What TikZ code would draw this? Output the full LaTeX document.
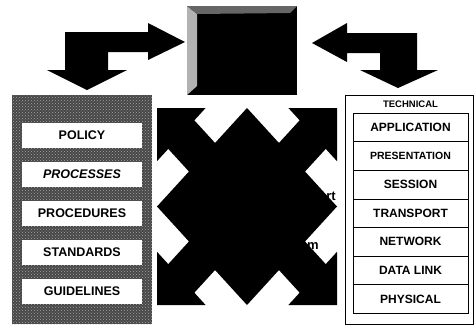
\documentclass[tikz,border=0pt]{standalone}
\usepackage{fontspec}
\setmainfont{Liberation Sans}
\usetikzlibrary{patterns}

\tikzset{
  govbox/.style={fill=white,minimum width=120pt,minimum height=25pt,inner sep=0pt,
                 font=\fontsize{12.5}{14}\selectfont\bfseries},
  layerbox/.style={draw,line width=0.6pt,fill=white,minimum width=115pt,minimum height=28.6pt,
                   inner sep=0pt,font=\fontsize{12}{13}\selectfont\bfseries},
}

\begin{document}
\begin{tikzpicture}[x=1pt,y=-1pt]
  \useasboundingbox (0,0) rectangle (476,327);
  % central box on top, with bevel
  \node[fill=black,minimum width=110pt,minimum height=89pt,inner sep=0pt] (ctrl) at (242,50.5) {};
  \fill[black!30] (187,6) -- (197,14) -- (197,86) -- (187,95) -- cycle;
  \fill[black!60] (187,6) -- (297,6) -- (290,13) -- (197,14) -- cycle;
  % elbow arrows
  \fill (65,32) -- (148,32) -- (148,23) -- (185,42) -- (148,60) -- (148,52) -- (108,52)
        -- (108,70) -- (127,70) -- (87,90) -- (47,70) -- (65,70) -- cycle;
  \fill (312,43) -- (347,23) -- (347,33) -- (417,33) -- (417,70) -- (438,70) -- (398,88)
        -- (360,70) -- (380,70) -- (380,53) -- (347,53) -- (347,62) -- cycle;
  % left stack (stippled)
  \fill[black!72] (12,95) rectangle (152,324);
  \fill[pattern=crosshatch dots,pattern color=black!35] (12,95) rectangle (152,324);
  \foreach \y/\lbl [count=\i] in {135/POLICY,174/{\itshape PROCESSES},213/PROCEDURES,
                                  252/STANDARDS,291/GUIDELINES}
    \node[govbox] (gov\i) at (82,\y) {\lbl};
  % right stack
  \draw[line width=0.6pt] (345,95) rectangle (473,324);
  \node[font=\fontsize{9.5}{11}\selectfont\bfseries] (tech) at (410.5,104) {TECHNICAL};
  \foreach \lbl [count=\i] in {APPLICATION,{\fontsize{10.5}{12}\selectfont PRESENTATION},SESSION,
                               TRANSPORT,NETWORK,DATA LINK,PHYSICAL}
    \node[layerbox] (osi\i) at (410.5,{127.3+28.6*(\i-1)}) {\lbl};
  % crossed arrows over diamond
  \begin{scope}[shift={(247,206.5)},xscale=90,yscale=-98.5]
    \fill (-1,1) -- (-0.46,1) -- (-0.585,0.875) -- (-0.355,0.645) -- (0,1) -- (0.355,0.645)
      -- (0.585,0.875) -- (0.46,1) -- (1,1) -- (1,0.46) -- (0.875,0.585) -- (0.645,0.355)
      -- (1,0) -- (0.645,-0.355) -- (0.875,-0.585) -- (1,-0.46) -- (1,-1) -- (0.46,-1)
      -- (0.585,-0.875) -- (0.355,-0.645) -- (0,-1) -- (-0.355,-0.645) -- (-0.585,-0.875)
      -- (-0.46,-1) -- (-1,-1) -- (-1,-0.46) -- (-0.875,-0.585) -- (-0.645,-0.355) -- (-1,0)
      -- (-0.645,0.355) -- (-0.875,0.585) -- (-1,0.46) -- cycle;
  \end{scope}
  \node[font=\fontsize{13}{14}\selectfont\bfseries,inner sep=0pt] (sup) at (331,196) {rt};
  \node[font=\fontsize{13}{14}\selectfont\bfseries,inner sep=0pt] (sys) at (313,246) {m};
\end{tikzpicture}
\end{document}
